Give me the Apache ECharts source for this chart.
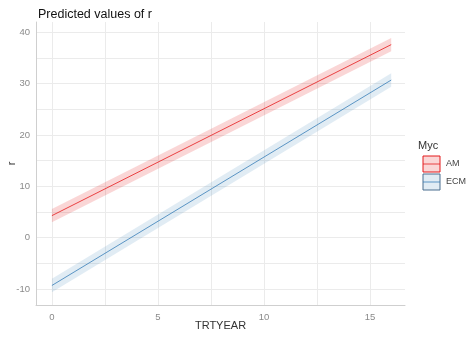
<!DOCTYPE html>
<html>
<head>
    <meta charset="utf-8">
    <title>Predicted values of r</title>
    <script src="https://cdn.jsdelivr.net/npm/echarts@6.0.0/dist/echarts.min.js"></script>
    <style>
        html, body { margin: 0; padding: 0; background: #fff; }
        #chart { width: 474px; height: 338px; }
    </style>
</head>
<body>
<div id="chart"></div>
<script>
    // x values (TRTYEAR)
    var years = [0, 16];
    // AM: fitted line and confidence band
    var amFit = [4.3, 37.6];
    var amLow = [3.0, 36.3];
    var amHigh = [5.6, 38.9];
    // ECM: fitted line and confidence band
    var ecmFit = [-9.3, 30.7];
    var ecmLow = [-10.6, 29.4];
    var ecmHigh = [-8.0, 32.0];
    // axis labels
    var xLabels = [0, 5, 10, 15];
    var xGrid = [0, 2.5, 5, 7.5, 10, 12.5, 15];
    var yLabels = [-10, 0, 10, 20, 30, 40];
    var yGrid = [-10, -5, 0, 5, 10, 15, 20, 25, 30, 35, 40];

    var amLine = '#e41a1c', amBand = 'rgba(228,26,28,0.18)';
    var ecmLine = '#377eb8', ecmBand = 'rgba(55,126,184,0.15)';

    function pairs(xs, ys) {
        return xs.map(function (x, i) { return [x, ys[i]]; });
    }

    function bandSeries(low, high, color) {
        return {
            type: 'custom',
            silent: true,
            z: 1,
            data: [0],
            renderItem: function (params, api) {
                var pts = [];
                for (var i = 0; i < years.length; i++) pts.push(api.coord([years[i], low[i]]));
                for (var j = years.length - 1; j >= 0; j--) pts.push(api.coord([years[j], high[j]]));
                return { type: 'polygon', shape: { points: pts }, style: { fill: color } };
            }
        };
    }

    var chart = echarts.init(document.getElementById('chart'));
    var option = {
        animation: false,
        title: {
            text: 'Predicted values of r',
            left: 33, top: 3,
            textStyle: { fontFamily: 'Liberation Sans', fontSize: 12.5, fontWeight: 'normal', color: '#111' }
        },
        grid: { left: 36, right: 69, top: 22, bottom: 33, containLabel: false, outerBoundsMode: 'none' },
        xAxis: {
            type: 'value', min: -0.75, max: 16.65,
            name: 'TRTYEAR', nameLocation: 'middle', nameGap: 15, nameMoveOverlap: false,
            nameTextStyle: { fontFamily: 'Liberation Sans', fontSize: 11, color: '#333' },
            axisLine: { show: true, onZero: false, lineStyle: { color: '#cfcfcf' } },
            axisTick: { show: false, customValues: xGrid },
            axisLabel: { customValues: xLabels, color: '#8a8a8a', fontSize: 9.5, fontFamily: 'Liberation Sans', margin: 7 },
            splitLine: { show: true, lineStyle: { color: '#ebebeb', width: 1 } }
        },
        yAxis: {
            type: 'value', min: -13.1, max: 42,
            name: 'r', nameLocation: 'middle', nameGap: 19, nameRotate: 90, nameMoveOverlap: false,
            nameTextStyle: { fontFamily: 'Liberation Sans', fontSize: 11, color: '#333' },
            axisLine: { show: true, onZero: false, lineStyle: { color: '#cfcfcf' } },
            axisTick: { show: false, customValues: yGrid },
            axisLabel: { customValues: yLabels, color: '#8a8a8a', fontSize: 9.5, fontFamily: 'Liberation Sans', margin: 6 },
            splitLine: { show: true, lineStyle: { color: '#ebebeb', width: 1 } }
        },
        series: [
            bandSeries(amLow, amHigh, amBand),
            bandSeries(ecmLow, ecmHigh, ecmBand),
            { type: 'line', data: pairs(years, amFit), showSymbol: false, z: 3,
              lineStyle: { color: amLine, width: 0.8 } },
            { type: 'line', data: pairs(years, ecmFit), showSymbol: false, z: 3,
              lineStyle: { color: ecmLine, width: 0.8 } }
        ],
        graphic: [
            { type: 'text', left: 418, top: 140,
              style: { text: 'Myc', fontFamily: 'Liberation Sans', fontSize: 11, fill: '#333' } },
            { type: 'rect', shape: { x: 423, y: 156, width: 17, height: 16 },
              style: { fill: 'rgba(228,26,28,0.18)', stroke: amLine, lineWidth: 1 } },
            { type: 'line', shape: { x1: 423, y1: 164, x2: 440, y2: 164 }, style: { stroke: amLine, lineWidth: 0.8 } },
            { type: 'rect', shape: { x: 423, y: 174, width: 17, height: 16 },
              style: { fill: 'rgba(55,126,184,0.15)', stroke: '#4a6f8f', lineWidth: 1 } },
            { type: 'line', shape: { x1: 423, y1: 182, x2: 440, y2: 182 }, style: { stroke: ecmLine, lineWidth: 0.8 } },
            { type: 'text', left: 446, top: 159,
              style: { text: 'AM', fontFamily: 'Liberation Sans', fontSize: 9, fill: '#444' } },
            { type: 'text', left: 446, top: 177,
              style: { text: 'ECM', fontFamily: 'Liberation Sans', fontSize: 9, fill: '#444' } }
        ]
    };
    chart.setOption(option);
</script>
</body>
</html>
